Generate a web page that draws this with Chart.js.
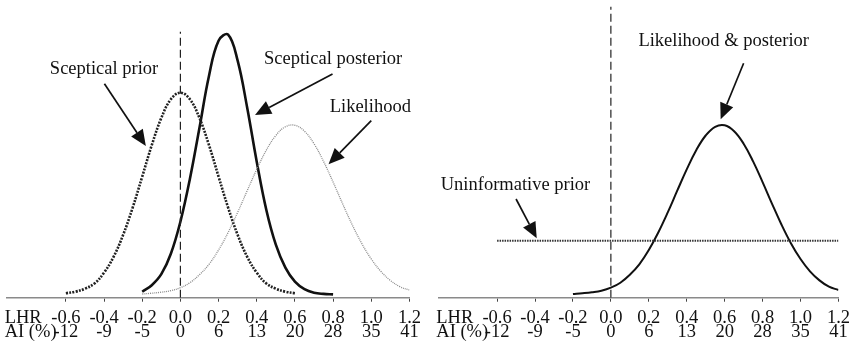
<!DOCTYPE html>
<html>
<head>
<meta charset="utf-8">
<script src="https://cdn.jsdelivr.net/npm/chart.js@4.4.1/dist/chart.umd.min.js"></script>
<style>
  body { margin: 0; background: #fff; }
  #wrap { position: relative; width: 859px; height: 352px; }
  #leftBox { position: absolute; left: 0; top: 0; width: 430px; height: 352px; }
  #rightBox { position: absolute; left: 430px; top: 0; width: 429px; height: 352px; }
</style>
</head>
<body>
<div id="wrap">
  <div id="leftBox"><canvas id="leftChart" width="430" height="352"></canvas></div>
  <div id="rightBox"><canvas id="rightChart" width="429" height="352"></canvas></div>
</div>
<script>
// tick rows: log hazard ratio and the matching absolute improvement
const lhrTicks = [-0.6, -0.4, -0.2, 0.0, 0.2, 0.4, 0.6, 0.8, 1.0, 1.2];
const aiTicks = ["-12", "-9", "-5", "0", "6", "13", "20", "28", "35", "41"];

// sceptical prior density
const priorX = [-0.6, -0.55, -0.5, -0.45, -0.4, -0.35, -0.3, -0.25, -0.2, -0.15, -0.1, -0.05,
  0, 0.05, 0.1, 0.15, 0.2, 0.25, 0.3, 0.35, 0.4, 0.45, 0.5, 0.55, 0.6];
const priorY = [0.045, 0.06, 0.09, 0.143, 0.25, 0.409, 0.628, 0.901, 1.211, 1.525, 1.797, 1.984,
  2.05, 1.984, 1.797, 1.525, 1.211, 0.901, 0.628, 0.409, 0.25, 0.143, 0.09, 0.06, 0.045];

// sceptical posterior density
const posteriorX = [-0.2, -0.15, -0.1, -0.05, 0, 0.05, 0.1, 0.15, 0.2, 0.25, 0.3, 0.35,
  0.4, 0.45, 0.5, 0.55, 0.6, 0.65, 0.7, 0.75, 0.8];
const posteriorY = [0.06, 0.125, 0.235, 0.44, 0.76, 1.19, 1.70, 2.22, 2.57, 2.63, 2.37, 1.90,
  1.36, 0.88, 0.53, 0.30, 0.16, 0.085, 0.05, 0.038, 0.033];

// likelihood (also the posterior under the flat prior)
const likelihoodX = [-0.2, -0.15, -0.1, -0.05, 0, 0.05, 0.1, 0.15, 0.2, 0.25, 0.3, 0.35, 0.4,
  0.45, 0.5, 0.55, 0.6, 0.65, 0.7, 0.75, 0.8, 0.85, 0.9, 0.95, 1.0, 1.05, 1.1, 1.15, 1.2];
const likelihoodY = [0.037, 0.045, 0.055, 0.07, 0.10, 0.15, 0.23, 0.334, 0.477, 0.652, 0.853,
  1.07, 1.283, 1.475, 1.622, 1.709, 1.724, 1.665, 1.54, 1.363, 1.156, 0.939, 0.73, 0.543,
  0.387, 0.264, 0.173, 0.11, 0.077];

// uninformative (flat) prior
const flatX = [-0.6, 1.2];
const flatY = [0.57, 0.57];

// no-effect reference line at LHR = 0
const refX = [0, 0];
const refLeftY = [0, 2.66];
const refRightY = [0, 2.91];

const serif = "'Liberation Serif', 'Times New Roman', serif";
const axisFont = { family: serif, size: 18.5, lineHeight: 0.79 };
const noteFont = "18.5px " + serif;

// labels with arrows, in data units (text centre x / baseline y, arrow tail, arrow tip)
const leftNotes = [
  { text: "Sceptical prior", x: -0.40, y: 2.24, from: [-0.398, 2.14], to: [-0.181, 1.517] },
  { text: "Sceptical posterior", x: 0.80, y: 2.334, from: [0.797, 2.237], to: [0.391, 1.827] },
  { text: "Likelihood", x: 0.995, y: 1.854, from: [1.0, 1.77], to: [0.776, 1.334] }
];
const rightNotes = [
  { text: "Likelihood & posterior", x: 0.595, y: 2.52, from: [0.70, 2.344], to: [0.579, 1.784] },
  { text: "Uninformative prior", x: -0.503, y: 1.077, from: [-0.50, 0.987], to: [-0.391, 0.594] }
];

function curve(xs, ys, style) {
  return Object.assign({
    data: xs.map((x, i) => ({ x: x, y: ys[i] })),
    pointRadius: 0,
    fill: false,
    tension: 0.4,
    borderColor: "#111",
    borderWidth: 2
  }, style);
}

function arrow(ctx, x0, y0, x1, y1) {
  const ang = Math.atan2(y1 - y0, x1 - x0);
  const len = 16, half = 7;
  const bx = x1 - len * Math.cos(ang), by = y1 - len * Math.sin(ang);
  ctx.beginPath();
  ctx.moveTo(x0, y0);
  ctx.lineTo(bx, by);
  ctx.stroke();
  ctx.beginPath();
  ctx.moveTo(x1, y1);
  ctx.lineTo(bx + half * Math.sin(ang), by - half * Math.cos(ang));
  ctx.lineTo(bx - half * Math.sin(ang), by + half * Math.cos(ang));
  ctx.closePath();
  ctx.fill();
}

const notesPlugin = {
  id: "notes",
  afterDatasetsDraw(chart, args, opts) {
    const ctx = chart.ctx, xs = chart.scales.x, ys = chart.scales.y;
    ctx.save();
    ctx.fillStyle = "#111";
    ctx.strokeStyle = "#111";
    ctx.lineWidth = 1.7;
    ctx.font = noteFont;
    ctx.textAlign = "center";
    ctx.textBaseline = "alphabetic";
    opts.items.forEach((n) => {
      ctx.fillText(n.text, xs.getPixelForValue(n.x), ys.getPixelForValue(n.y));
      arrow(ctx, xs.getPixelForValue(n.from[0]), ys.getPixelForValue(n.from[1]),
        xs.getPixelForValue(n.to[0]), ys.getPixelForValue(n.to[1]));
    });
    ctx.restore();
  }
};

// row titles to the left of the tick labels
const rowTitles = {
  id: "rowTitles",
  afterDraw(chart) {
    const sc = chart.scales.x;
    const o = sc.options;
    const lh = axisFont.size * axisFont.lineHeight;
    const y0 = sc.top + o.grid.tickLength + o.ticks.padding + lh / 2;
    const ctx = chart.ctx;
    ctx.save();
    ctx.fillStyle = "#111";
    ctx.font = axisFont.size + "px " + serif;
    ctx.textAlign = "left";
    ctx.textBaseline = "middle";
    ctx.fillText("LHR", chart.chartArea.left - 2, y0);
    ctx.fillText("AI (%)", chart.chartArea.left - 2, y0 + lh);
    ctx.restore();
  }
};

function makeChart(id, datasets, notes, pad) {
  new Chart(document.getElementById(id), {
    type: "line",
    data: { datasets: datasets },
    plugins: [notesPlugin, rowTitles],
    options: {
      responsive: false,
      animation: false,
      layout: { padding: pad },
      plugins: { legend: { display: false }, tooltip: { enabled: false }, notes: { items: notes } },
      scales: {
        x: {
          type: "linear",
          min: -0.91,
          max: 1.2,
          afterBuildTicks: (scale) => {
            scale.ticks = lhrTicks.map((v) => ({ value: v }));
          },
          afterFit: (scale) => {
            scale.height = 54.3;
          },
          border: { display: true, color: "#8a8a8a", width: 1.6 },
          grid: { drawOnChartArea: false, drawTicks: true, tickLength: 4, tickColor: "#444", tickWidth: 1 },
          ticks: {
            autoSkip: false,
            maxRotation: 0,
            minRotation: 0,
            padding: 9,
            color: "#111",
            font: axisFont,
            callback: (value, index) => [lhrTicks[index].toFixed(1), aiTicks[index]]
          }
        },
        y: { display: false, min: 0, max: 2.95 }
      }
    }
  });
}

makeChart("leftChart", [
  curve(refX, refLeftY, { borderColor: "#222", borderWidth: 1.2, borderDash: [8, 4], tension: 0 }),
  curve(likelihoodX, likelihoodY, { borderColor: "#8c8c8c", borderWidth: 1.3, borderDash: [1, 1] }),
  curve(priorX, priorY, { borderColor: "#222", borderWidth: 2.6, borderDash: [2, 1.3] }),
  curve(posteriorX, posteriorY, { borderWidth: 2.6 })
], leftNotes, { left: 6.7, right: 15.3, top: 2.7, bottom: 0 });

makeChart("rightChart", [
  curve(refX, refRightY, { borderColor: "#222", borderWidth: 1.2, borderDash: [8, 4], tension: 0 }),
  curve(flatX, flatY, { borderColor: "#333", borderWidth: 2, borderDash: [1.5, 1], tension: 0 }),
  curve(likelihoodX, likelihoodY, { borderWidth: 2 })
], rightNotes, { left: 8.3, right: 13, top: 2.7, bottom: 0 });
</script>
</body>
</html>
